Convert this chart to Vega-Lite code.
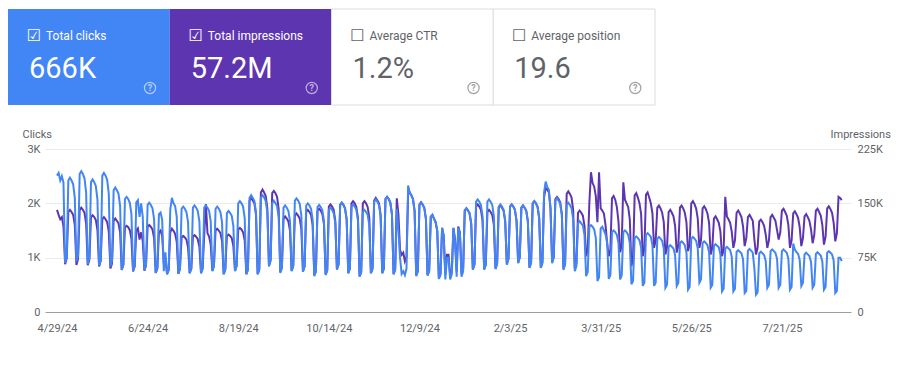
{
  "$schema": "https://vega.github.io/schema/vega-lite/v6.json",
  "background": "#ffffff",
  "padding": {"left": 8, "top": 8, "right": 0, "bottom": 0},
  "config": {"view": {"stroke": null}, "font": "Roboto"},
  "spacing": 22,
  "vconcat": [
    {
      "width": 610,
      "height": 96,
      "data": {"values": [
        {"m": "Total clicks", "v": "666K", "on": true},
        {"m": "Total impressions", "v": "57.2M", "on": true},
        {"m": "Average CTR", "v": "1.2%", "on": false},
        {"m": "Average position", "v": "19.6", "on": false}
      ]},
      "encoding": {
        "x": {"field": "m", "type": "nominal", "scale": {"domain": ["Total clicks", "Total impressions", "Average CTR", "Average position"], "range": [-37, 610], "paddingInner": 0, "paddingOuter": 0}, "axis": null}
      },
      "layer": [
        {
          "mark": {"type": "rect", "stroke": "#dadce0", "strokeWidth": 1},
          "encoding": {
            "fill": {"field": "m", "type": "nominal", "scale": {"domain": ["Total clicks", "Total impressions", "Average CTR", "Average position"], "range": ["#4285f4", "#5e35b1", "#ffffff", "#ffffff"]}, "legend": null},
            "strokeOpacity": {"condition": {"test": "datum.on", "value": 0}, "value": 1}
          }
        },
        {
          "mark": {"type": "text", "align": "center", "baseline": "middle", "font": "DejaVu Sans", "fontSize": 16, "dx": 26, "dy": -21},
          "encoding": {
            "x": {"field": "m", "type": "nominal", "bandPosition": 0},
            "text": {"condition": {"test": "datum.on", "value": "☑"}, "value": "☐"},
            "color": {"condition": {"test": "datum.on", "value": "#ffffff"}, "value": "#5f6368"}
          }
        },
        {
          "mark": {"type": "text", "align": "left", "baseline": "middle", "fontSize": 12, "dx": 38, "dy": -21},
          "encoding": {
            "x": {"field": "m", "type": "nominal", "bandPosition": 0},
            "text": {"field": "m"},
            "color": {"condition": {"test": "datum.on", "value": "#ffffff"}, "value": "#5f6368"}
          }
        },
        {
          "mark": {"type": "text", "align": "left", "baseline": "alphabetic", "fontSize": 29, "dx": 21, "dy": 21},
          "encoding": {
            "x": {"field": "m", "type": "nominal", "bandPosition": 0},
            "text": {"field": "v"},
            "color": {"condition": {"test": "datum.on", "value": "#ffffff"}, "value": "#5f6368"}
          }
        },
        {
          "mark": {"type": "point", "shape": "circle", "filled": false, "size": 125, "strokeWidth": 1.2},
          "encoding": {
            "x": {"field": "m", "type": "nominal", "bandPosition": 0.878},
            "yOffset": {"value": 31},
            "color": {"condition": {"test": "datum.on", "value": "#ffffff"}, "value": "#5f6368"},
            "opacity": {"value": 0.6}
          }
        },
        {
          "mark": {"type": "text", "align": "center", "baseline": "middle", "fontSize": 9, "fontWeight": "bold", "dx": 142, "dy": 31},
          "encoding": {
            "x": {"field": "m", "type": "nominal", "bandPosition": 0},
            "text": {"value": "?"},
            "color": {"condition": {"test": "datum.on", "value": "#ffffff"}, "value": "#5f6368"},
            "opacity": {"value": 0.6}
          }
        }
      ]
    },
    {
      "width": 806,
      "height": 163,
      "data": {"values": [
{"d":"2024-04-29","c":2510,"i":141000},{"d":"2024-04-30","c":2560,"i":134000},{"d":"2024-05-01","c":2420,"i":128000},{"d":"2024-05-02","c":2500,"i":131000},{"d":"2024-05-03","c":2380,"i":118000},{"d":"2024-05-04","c":900,"i":66000},{"d":"2024-05-05","c":1010,"i":74000},
{"d":"2024-05-06","c":2420,"i":138000},{"d":"2024-05-07","c":2470,"i":141000},{"d":"2024-05-08","c":2420,"i":138000},{"d":"2024-05-09","c":2350,"i":134000},{"d":"2024-05-10","c":2100,"i":120000},{"d":"2024-05-11","c":930,"i":65000},{"d":"2024-05-12","c":1040,"i":73000},
{"d":"2024-05-13","c":2540,"i":141000},{"d":"2024-05-14","c":2590,"i":144000},{"d":"2024-05-15","c":2540,"i":141000},{"d":"2024-05-16","c":2460,"i":137000},{"d":"2024-05-17","c":2200,"i":122000},{"d":"2024-05-18","c":880,"i":64500},{"d":"2024-05-19","c":990,"i":72000},
{"d":"2024-05-20","c":2390,"i":131000},{"d":"2024-05-21","c":2440,"i":133500},{"d":"2024-05-22","c":2390,"i":131000},{"d":"2024-05-23","c":2320,"i":127000},{"d":"2024-05-24","c":2070,"i":113000},{"d":"2024-05-25","c":850,"i":63000},{"d":"2024-05-26","c":950,"i":70500},
{"d":"2024-05-27","c":2510,"i":128000},{"d":"2024-05-28","c":2560,"i":131000},{"d":"2024-05-29","c":2510,"i":128000},{"d":"2024-05-30","c":2430,"i":124000},{"d":"2024-05-31","c":2180,"i":111000},{"d":"2024-06-01","c":840,"i":60000},{"d":"2024-06-02","c":940,"i":67000},
{"d":"2024-06-03","c":2240,"i":126000},{"d":"2024-06-04","c":2290,"i":129000},{"d":"2024-06-05","c":2240,"i":126000},{"d":"2024-06-06","c":2180,"i":122500},{"d":"2024-06-07","c":1950,"i":110000},{"d":"2024-06-08","c":780,"i":58000},{"d":"2024-06-09","c":870,"i":65000},
{"d":"2024-06-10","c":2080,"i":117000},{"d":"2024-06-11","c":2120,"i":119000},{"d":"2024-06-12","c":2080,"i":117000},{"d":"2024-06-13","c":2010,"i":113000},{"d":"2024-06-14","c":1800,"i":101000},{"d":"2024-06-15","c":750,"i":56000},{"d":"2024-06-16","c":840,"i":63000},
{"d":"2024-06-17","c":2020,"i":113000},{"d":"2024-06-18","c":2060,"i":115500},{"d":"2024-06-19","c":1750,"i":100000},{"d":"2024-06-20","c":2000,"i":110000},{"d":"2024-06-21","c":1750,"i":98000},{"d":"2024-06-22","c":770,"i":57000},{"d":"2024-06-23","c":860,"i":64000},
{"d":"2024-06-24","c":1970,"i":117500},{"d":"2024-06-25","c":2010,"i":120000},{"d":"2024-06-26","c":1970,"i":117500},{"d":"2024-06-27","c":1910,"i":114000},{"d":"2024-06-28","c":1710,"i":102000},{"d":"2024-06-29","c":720,"i":54000},{"d":"2024-06-30","c":810,"i":60000},
{"d":"2024-07-01","c":1800,"i":110000},{"d":"2024-07-02","c":1830,"i":112500},{"d":"2024-07-03","c":1700,"i":105000},{"d":"2024-07-04","c":750,"i":67000},{"d":"2024-07-05","c":1100,"i":75000},{"d":"2024-07-06","c":690,"i":52500},{"d":"2024-07-07","c":770,"i":58000},
{"d":"2024-07-08","c":1880,"i":110000},{"d":"2024-07-09","c":2100,"i":115000},{"d":"2024-07-10","c":2000,"i":112000},{"d":"2024-07-11","c":1950,"i":108000},{"d":"2024-07-12","c":1750,"i":97000},{"d":"2024-07-13","c":700,"i":53000},{"d":"2024-07-14","c":790,"i":60000},
{"d":"2024-07-15","c":1900,"i":103000},{"d":"2024-07-16","c":1940,"i":105000},{"d":"2024-07-17","c":1900,"i":103000},{"d":"2024-07-18","c":1840,"i":100000},{"d":"2024-07-19","c":1650,"i":89000},{"d":"2024-07-20","c":710,"i":54000},{"d":"2024-07-21","c":800,"i":60000},
{"d":"2024-07-22","c":1920,"i":104000},{"d":"2024-07-23","c":1960,"i":106000},{"d":"2024-07-24","c":1920,"i":104000},{"d":"2024-07-25","c":1860,"i":100500},{"d":"2024-07-26","c":1670,"i":90000},{"d":"2024-07-27","c":710,"i":54000},{"d":"2024-07-28","c":800,"i":60000},
{"d":"2024-07-29","c":1920,"i":107000},{"d":"2024-07-30","c":1960,"i":149000},{"d":"2024-07-31","c":1920,"i":109000},{"d":"2024-08-01","c":1860,"i":104000},{"d":"2024-08-02","c":1670,"i":93000},{"d":"2024-08-03","c":750,"i":57000},{"d":"2024-08-04","c":840,"i":64000},
{"d":"2024-08-05","c":1900,"i":112500},{"d":"2024-08-06","c":1940,"i":115000},{"d":"2024-08-07","c":1900,"i":112500},{"d":"2024-08-08","c":1840,"i":109000},{"d":"2024-08-09","c":1650,"i":98000},{"d":"2024-08-10","c":690,"i":52500},{"d":"2024-08-11","c":770,"i":59000},
{"d":"2024-08-12","c":1820,"i":105000},{"d":"2024-08-13","c":1860,"i":107000},{"d":"2024-08-14","c":1820,"i":105000},{"d":"2024-08-15","c":1770,"i":102000},{"d":"2024-08-16","c":1580,"i":91000},{"d":"2024-08-17","c":750,"i":57000},{"d":"2024-08-18","c":840,"i":64000},
{"d":"2024-08-19","c":2000,"i":114000},{"d":"2024-08-20","c":2040,"i":116000},{"d":"2024-08-21","c":2000,"i":114000},{"d":"2024-08-22","c":1940,"i":110000},{"d":"2024-08-23","c":1730,"i":99000},{"d":"2024-08-24","c":690,"i":52500},{"d":"2024-08-25","c":770,"i":59000},
{"d":"2024-08-26","c":2100,"i":154000},{"d":"2024-08-27","c":2150,"i":157500},{"d":"2024-08-28","c":2100,"i":154000},{"d":"2024-08-29","c":2040,"i":150000},{"d":"2024-08-30","c":1830,"i":134000},{"d":"2024-08-31","c":690,"i":52500},{"d":"2024-09-01","c":770,"i":59000},
{"d":"2024-09-02","c":2100,"i":165000},{"d":"2024-09-03","c":2150,"i":169000},{"d":"2024-09-04","c":2110,"i":165000},{"d":"2024-09-05","c":2040,"i":160000},{"d":"2024-09-06","c":1830,"i":143000},{"d":"2024-09-07","c":840,"i":64500},{"d":"2024-09-08","c":940,"i":72000},
{"d":"2024-09-09","c":2000,"i":164000},{"d":"2024-09-10","c":2050,"i":167000},{"d":"2024-09-11","c":2000,"i":164000},{"d":"2024-09-12","c":1950,"i":159000},{"d":"2024-09-13","c":1740,"i":142000},{"d":"2024-09-14","c":720,"i":55500},{"d":"2024-09-15","c":810,"i":62000},
{"d":"2024-09-16","c":1920,"i":129000},{"d":"2024-09-17","c":1960,"i":132000},{"d":"2024-09-18","c":1920,"i":129000},{"d":"2024-09-19","c":1860,"i":125000},{"d":"2024-09-20","c":1670,"i":112000},{"d":"2024-09-21","c":750,"i":57000},{"d":"2024-09-22","c":840,"i":64000},
{"d":"2024-09-23","c":2050,"i":133000},{"d":"2024-09-24","c":2090,"i":136000},{"d":"2024-09-25","c":2050,"i":133000},{"d":"2024-09-26","c":1990,"i":129000},{"d":"2024-09-27","c":1780,"i":115000},{"d":"2024-09-28","c":740,"i":56000},{"d":"2024-09-29","c":830,"i":63000},
{"d":"2024-09-30","c":1960,"i":138000},{"d":"2024-10-01","c":2000,"i":141000},{"d":"2024-10-02","c":1960,"i":138000},{"d":"2024-10-03","c":1900,"i":134000},{"d":"2024-10-04","c":1700,"i":120000},{"d":"2024-10-05","c":660,"i":51000},{"d":"2024-10-06","c":740,"i":57000},
{"d":"2024-10-07","c":1930,"i":140000},{"d":"2024-10-08","c":1970,"i":142500},{"d":"2024-10-09","c":1930,"i":140000},{"d":"2024-10-10","c":1870,"i":135000},{"d":"2024-10-11","c":1670,"i":121000},{"d":"2024-10-12","c":680,"i":52000},{"d":"2024-10-13","c":760,"i":58000},
{"d":"2024-10-14","c":1880,"i":145500},{"d":"2024-10-15","c":1920,"i":148500},{"d":"2024-10-16","c":1880,"i":145500},{"d":"2024-10-17","c":1820,"i":141000},{"d":"2024-10-18","c":1630,"i":126000},{"d":"2024-10-19","c":780,"i":59000},{"d":"2024-10-20","c":870,"i":66000},
{"d":"2024-10-21","c":1970,"i":148000},{"d":"2024-10-22","c":2010,"i":151000},{"d":"2024-10-23","c":1970,"i":148000},{"d":"2024-10-24","c":1910,"i":143000},{"d":"2024-10-25","c":1710,"i":128000},{"d":"2024-10-26","c":710,"i":54000},{"d":"2024-10-27","c":800,"i":60000},
{"d":"2024-10-28","c":1940,"i":150000},{"d":"2024-10-29","c":1980,"i":153000},{"d":"2024-10-30","c":1940,"i":150000},{"d":"2024-10-31","c":1880,"i":145000},{"d":"2024-11-01","c":1680,"i":130000},{"d":"2024-11-02","c":650,"i":49500},{"d":"2024-11-03","c":730,"i":55000},
{"d":"2024-11-04","c":1840,"i":150000},{"d":"2024-11-05","c":1880,"i":153000},{"d":"2024-11-06","c":1840,"i":150000},{"d":"2024-11-07","c":1790,"i":145000},{"d":"2024-11-08","c":1600,"i":130000},{"d":"2024-11-09","c":710,"i":54000},{"d":"2024-11-10","c":800,"i":60000},
{"d":"2024-11-11","c":2030,"i":154000},{"d":"2024-11-12","c":2070,"i":157500},{"d":"2024-11-13","c":2030,"i":154000},{"d":"2024-11-14","c":1970,"i":150000},{"d":"2024-11-15","c":1760,"i":134000},{"d":"2024-11-16","c":710,"i":54000},{"d":"2024-11-17","c":800,"i":60000},
{"d":"2024-11-18","c":2080,"i":156000},{"d":"2024-11-19","c":2120,"i":159000},{"d":"2024-11-20","c":2080,"i":156000},{"d":"2024-11-21","c":2010,"i":151000},{"d":"2024-11-22","c":1800,"i":135000},{"d":"2024-11-23","c":690,"i":52500},{"d":"2024-11-24","c":770,"i":59000},
{"d":"2024-11-25","c":1900,"i":157000},{"d":"2024-11-26","c":1500,"i":135000},{"d":"2024-11-27","c":1000,"i":86000},{"d":"2024-11-28","c":700,"i":79000},{"d":"2024-11-29","c":750,"i":82000},{"d":"2024-11-30","c":680,"i":70000},{"d":"2024-12-01","c":800,"i":76000},
{"d":"2024-12-02","c":2330,"i":163000},{"d":"2024-12-03","c":2200,"i":165000},{"d":"2024-12-04","c":2150,"i":161000},{"d":"2024-12-05","c":2080,"i":156000},{"d":"2024-12-06","c":1850,"i":140000},{"d":"2024-12-07","c":660,"i":51000},{"d":"2024-12-08","c":740,"i":57000},
{"d":"2024-12-09","c":1970,"i":148500},{"d":"2024-12-10","c":2010,"i":151500},{"d":"2024-12-11","c":1970,"i":148500},{"d":"2024-12-12","c":1910,"i":144000},{"d":"2024-12-13","c":1710,"i":129000},{"d":"2024-12-14","c":670,"i":51000},{"d":"2024-12-15","c":750,"i":57000},
{"d":"2024-12-16","c":1760,"i":131000},{"d":"2024-12-17","c":1790,"i":134000},{"d":"2024-12-18","c":1720,"i":129000},{"d":"2024-12-19","c":1650,"i":124000},{"d":"2024-12-20","c":1500,"i":112000},{"d":"2024-12-21","c":610,"i":47000},{"d":"2024-12-22","c":680,"i":53000},
{"d":"2024-12-23","c":1550,"i":116000},{"d":"2024-12-24","c":1400,"i":105000},{"d":"2024-12-25","c":600,"i":52000},{"d":"2024-12-26","c":1000,"i":79000},{"d":"2024-12-27","c":1000,"i":79000},{"d":"2024-12-28","c":600,"i":49000},{"d":"2024-12-29","c":700,"i":56000},
{"d":"2024-12-30","c":1550,"i":116000},{"d":"2024-12-31","c":1300,"i":100000},{"d":"2025-01-01","c":650,"i":56000},{"d":"2025-01-02","c":1550,"i":118000},{"d":"2025-01-03","c":1450,"i":110000},{"d":"2025-01-04","c":650,"i":52000},{"d":"2025-01-05","c":750,"i":60000},
{"d":"2025-01-06","c":1870,"i":140000},{"d":"2025-01-07","c":1910,"i":143000},{"d":"2025-01-08","c":1870,"i":140000},{"d":"2025-01-09","c":1820,"i":136000},{"d":"2025-01-10","c":1620,"i":122000},{"d":"2025-01-11","c":780,"i":59000},{"d":"2025-01-12","c":870,"i":66000},
{"d":"2025-01-13","c":2030,"i":145500},{"d":"2025-01-14","c":2070,"i":148500},{"d":"2025-01-15","c":2030,"i":145500},{"d":"2025-01-16","c":1970,"i":141000},{"d":"2025-01-17","c":1760,"i":126000},{"d":"2025-01-18","c":780,"i":59000},{"d":"2025-01-19","c":870,"i":66000},
{"d":"2025-01-20","c":2030,"i":138000},{"d":"2025-01-21","c":2070,"i":141000},{"d":"2025-01-22","c":2030,"i":138000},{"d":"2025-01-23","c":1970,"i":134000},{"d":"2025-01-24","c":1760,"i":120000},{"d":"2025-01-25","c":790,"i":60000},{"d":"2025-01-26","c":880,"i":67000},
{"d":"2025-01-27","c":1940,"i":144000},{"d":"2025-01-28","c":1980,"i":147000},{"d":"2025-01-29","c":1940,"i":144000},{"d":"2025-01-30","c":1880,"i":140000},{"d":"2025-01-31","c":1680,"i":125000},{"d":"2025-02-01","c":870,"i":66000},{"d":"2025-02-02","c":970,"i":74000},
{"d":"2025-02-03","c":1940,"i":145500},{"d":"2025-02-04","c":1980,"i":148500},{"d":"2025-02-05","c":1940,"i":145500},{"d":"2025-02-06","c":1880,"i":141000},{"d":"2025-02-07","c":1680,"i":126000},{"d":"2025-02-08","c":900,"i":68000},{"d":"2025-02-09","c":1000,"i":76000},
{"d":"2025-02-10","c":1920,"i":144000},{"d":"2025-02-11","c":1960,"i":147000},{"d":"2025-02-12","c":1920,"i":144000},{"d":"2025-02-13","c":1860,"i":140000},{"d":"2025-02-14","c":1670,"i":125000},{"d":"2025-02-15","c":810,"i":61500},{"d":"2025-02-16","c":900,"i":69000},
{"d":"2025-02-17","c":2000,"i":150000},{"d":"2025-02-18","c":2040,"i":153000},{"d":"2025-02-19","c":2000,"i":150000},{"d":"2025-02-20","c":1940,"i":145000},{"d":"2025-02-21","c":1730,"i":130000},{"d":"2025-02-22","c":810,"i":61500},{"d":"2025-02-23","c":900,"i":69000},
{"d":"2025-02-24","c":2200,"i":158000},{"d":"2025-02-25","c":2400,"i":171000},{"d":"2025-02-26","c":2300,"i":169000},{"d":"2025-02-27","c":2250,"i":165000},{"d":"2025-02-28","c":1900,"i":143000},{"d":"2025-03-01","c":900,"i":69000},{"d":"2025-03-02","c":1000,"i":76000},
{"d":"2025-03-03","c":2050,"i":156000},{"d":"2025-03-04","c":2100,"i":159000},{"d":"2025-03-05","c":2050,"i":156000},{"d":"2025-03-06","c":1990,"i":151000},{"d":"2025-03-07","c":1790,"i":135000},{"d":"2025-03-08","c":775,"i":60000},{"d":"2025-03-09","c":870,"i":67000},
{"d":"2025-03-10","c":1970,"i":163000},{"d":"2025-03-11","c":2010,"i":166500},{"d":"2025-03-12","c":1970,"i":163000},{"d":"2025-03-13","c":1910,"i":158000},{"d":"2025-03-14","c":1710,"i":141000},{"d":"2025-03-15","c":750,"i":60000},{"d":"2025-03-16","c":840,"i":67000},
{"d":"2025-03-17","c":1630,"i":137000},{"d":"2025-03-18","c":1670,"i":140000},{"d":"2025-03-19","c":1630,"i":137000},{"d":"2025-03-20","c":1590,"i":133000},{"d":"2025-03-21","c":1420,"i":119000},{"d":"2025-03-22","c":660,"i":77000},{"d":"2025-03-23","c":740,"i":86000},
{"d":"2025-03-24","c":1570,"i":150000},{"d":"2025-03-25","c":1600,"i":193000},{"d":"2025-03-26","c":1570,"i":178000},{"d":"2025-03-27","c":1520,"i":173000},{"d":"2025-03-28","c":1360,"i":160000},{"d":"2025-03-29","c":570,"i":124000},{"d":"2025-03-30","c":640,"i":193000},
{"d":"2025-03-31","c":1540,"i":143000},{"d":"2025-04-01","c":1570,"i":140000},{"d":"2025-04-02","c":1500,"i":136000},{"d":"2025-04-03","c":1430,"i":120000},{"d":"2025-04-04","c":1280,"i":95000},{"d":"2025-04-05","c":610,"i":77000},{"d":"2025-04-06","c":680,"i":86000},
{"d":"2025-04-07","c":1470,"i":157000},{"d":"2025-04-08","c":1500,"i":160000},{"d":"2025-04-09","c":1470,"i":155000},{"d":"2025-04-10","c":1420,"i":145000},{"d":"2025-04-11","c":1270,"i":125000},{"d":"2025-04-12","c":600,"i":82500},{"d":"2025-04-13","c":670,"i":92000},
{"d":"2025-04-14","c":1470,"i":179000},{"d":"2025-04-15","c":1500,"i":155000},{"d":"2025-04-16","c":1470,"i":150000},{"d":"2025-04-17","c":1420,"i":145000},{"d":"2025-04-18","c":1270,"i":128000},{"d":"2025-04-19","c":510,"i":63000},{"d":"2025-04-20","c":570,"i":75000},
{"d":"2025-04-21","c":1360,"i":161000},{"d":"2025-04-22","c":1390,"i":164000},{"d":"2025-04-23","c":1360,"i":158000},{"d":"2025-04-24","c":1320,"i":150000},{"d":"2025-04-25","c":1180,"i":135000},{"d":"2025-04-26","c":480,"i":77000},{"d":"2025-04-27","c":540,"i":86000},
{"d":"2025-04-28","c":1420,"i":162000},{"d":"2025-04-29","c":1450,"i":165000},{"d":"2025-04-30","c":1420,"i":158000},{"d":"2025-05-01","c":1380,"i":150000},{"d":"2025-05-02","c":1230,"i":136000},{"d":"2025-05-03","c":480,"i":88500},{"d":"2025-05-04","c":540,"i":99000},
{"d":"2025-05-05","c":1350,"i":144000},{"d":"2025-05-06","c":1380,"i":147000},{"d":"2025-05-07","c":1350,"i":143000},{"d":"2025-05-08","c":1310,"i":137000},{"d":"2025-05-09","c":1170,"i":124000},{"d":"2025-05-10","c":445,"i":79500},{"d":"2025-05-11","c":500,"i":89000},
{"d":"2025-05-12","c":1200,"i":138000},{"d":"2025-05-13","c":1230,"i":141000},{"d":"2025-05-14","c":1200,"i":137000},{"d":"2025-05-15","c":1170,"i":132000},{"d":"2025-05-16","c":1050,"i":119000},{"d":"2025-05-17","c":480,"i":82000},{"d":"2025-05-18","c":540,"i":92000},
{"d":"2025-05-19","c":1270,"i":144000},{"d":"2025-05-20","c":1300,"i":147000},{"d":"2025-05-21","c":1270,"i":143000},{"d":"2025-05-22","c":1230,"i":137000},{"d":"2025-05-23","c":1100,"i":124000},{"d":"2025-05-24","c":410,"i":84000},{"d":"2025-05-25","c":460,"i":94000},
{"d":"2025-05-26","c":1350,"i":150000},{"d":"2025-05-27","c":1380,"i":153000},{"d":"2025-05-28","c":1350,"i":149000},{"d":"2025-05-29","c":1310,"i":143000},{"d":"2025-05-30","c":1170,"i":129000},{"d":"2025-05-31","c":540,"i":88500},{"d":"2025-06-01","c":600,"i":99000},
{"d":"2025-06-02","c":1270,"i":143000},{"d":"2025-06-03","c":1300,"i":146000},{"d":"2025-06-04","c":1270,"i":142000},{"d":"2025-06-05","c":1230,"i":136000},{"d":"2025-06-06","c":1100,"i":123000},{"d":"2025-06-07","c":450,"i":79500},{"d":"2025-06-08","c":500,"i":89000},
{"d":"2025-06-09","c":1220,"i":129000},{"d":"2025-06-10","c":1250,"i":132000},{"d":"2025-06-11","c":1220,"i":128000},{"d":"2025-06-12","c":1190,"i":123000},{"d":"2025-06-13","c":1060,"i":111000},{"d":"2025-06-14","c":380,"i":77000},{"d":"2025-06-15","c":430,"i":86000},
{"d":"2025-06-16","c":1170,"i":159000},{"d":"2025-06-17","c":1200,"i":132000},{"d":"2025-06-18","c":1170,"i":128000},{"d":"2025-06-19","c":1140,"i":123000},{"d":"2025-06-20","c":1020,"i":111000},{"d":"2025-06-21","c":380,"i":88500},{"d":"2025-06-22","c":430,"i":99000},
{"d":"2025-06-23","c":1110,"i":137000},{"d":"2025-06-24","c":1140,"i":140000},{"d":"2025-06-25","c":1110,"i":136000},{"d":"2025-06-26","c":1080,"i":131000},{"d":"2025-06-27","c":970,"i":118000},{"d":"2025-06-28","c":350,"i":91000},{"d":"2025-06-29","c":390,"i":102000},
{"d":"2025-06-30","c":1130,"i":131000},{"d":"2025-07-01","c":1160,"i":134000},{"d":"2025-07-02","c":1130,"i":130000},{"d":"2025-07-03","c":1090,"i":126000},{"d":"2025-07-04","c":800,"i":100000},{"d":"2025-07-05","c":320,"i":79500},{"d":"2025-07-06","c":360,"i":89000},
{"d":"2025-07-07","c":1080,"i":125000},{"d":"2025-07-08","c":1110,"i":127500},{"d":"2025-07-09","c":1080,"i":124000},{"d":"2025-07-10","c":1050,"i":119000},{"d":"2025-07-11","c":940,"i":107000},{"d":"2025-07-12","c":445,"i":88500},{"d":"2025-07-13","c":500,"i":99000},
{"d":"2025-07-14","c":1120,"i":131000},{"d":"2025-07-15","c":1150,"i":134000},{"d":"2025-07-16","c":1120,"i":130000},{"d":"2025-07-17","c":1090,"i":126000},{"d":"2025-07-18","c":980,"i":113000},{"d":"2025-07-19","c":445,"i":100000},{"d":"2025-07-20","c":500,"i":110000},
{"d":"2025-07-21","c":1120,"i":140000},{"d":"2025-07-22","c":1150,"i":142500},{"d":"2025-07-23","c":1120,"i":138000},{"d":"2025-07-24","c":1090,"i":133000},{"d":"2025-07-25","c":980,"i":120000},{"d":"2025-07-26","c":410,"i":88500},{"d":"2025-07-27","c":460,"i":99000},
{"d":"2025-07-28","c":1260,"i":136000},{"d":"2025-07-29","c":1150,"i":139000},{"d":"2025-07-30","c":1100,"i":135000},{"d":"2025-07-31","c":1070,"i":130000},{"d":"2025-08-01","c":960,"i":117000},{"d":"2025-08-02","c":480,"i":91000},{"d":"2025-08-03","c":540,"i":102000},
{"d":"2025-08-04","c":1060,"i":132000},{"d":"2025-08-05","c":1090,"i":135000},{"d":"2025-08-06","c":1060,"i":131000},{"d":"2025-08-07","c":1030,"i":126000},{"d":"2025-08-08","c":920,"i":114000},{"d":"2025-08-09","c":445,"i":95000},{"d":"2025-08-10","c":500,"i":106000},
{"d":"2025-08-11","c":1070,"i":140000},{"d":"2025-08-12","c":1100,"i":142500},{"d":"2025-08-13","c":1070,"i":138000},{"d":"2025-08-14","c":1040,"i":133000},{"d":"2025-08-15","c":930,"i":120000},{"d":"2025-08-16","c":410,"i":93000},{"d":"2025-08-17","c":460,"i":104000},
{"d":"2025-08-18","c":1090,"i":143000},{"d":"2025-08-19","c":1120,"i":146000},{"d":"2025-08-20","c":1090,"i":142000},{"d":"2025-08-21","c":1060,"i":137000},{"d":"2025-08-22","c":950,"i":123000},{"d":"2025-08-23","c":350,"i":97500},{"d":"2025-08-24","c":390,"i":109000},
{"d":"2025-08-25","c":1000,"i":159000},{"d":"2025-08-26","c":1000,"i":157500},{"d":"2025-08-27","c":935,"i":154500}
      ]},
      "encoding": {
        "x": {
          "field": "d", "type": "temporal",
          "scale": {"type": "utc", "domain": [{"year": 2024, "month": 4, "date": 21, "hours": 14, "utc": true}, {"year": 2025, "month": 9, "date": 1, "hours": 17, "utc": true}]},
          "axis": {
            "title": null,
            "values": [
              {"year": 2024, "month": 4, "date": 29, "utc": true},
              {"year": 2024, "month": 6, "date": 24, "utc": true},
              {"year": 2024, "month": 8, "date": 19, "utc": true},
              {"year": 2024, "month": 10, "date": 14, "utc": true},
              {"year": 2024, "month": 12, "date": 9, "utc": true},
              {"year": 2025, "month": 2, "date": 3, "utc": true},
              {"year": 2025, "month": 3, "date": 31, "utc": true},
              {"year": 2025, "month": 5, "date": 26, "utc": true},
              {"year": 2025, "month": 7, "date": 21, "utc": true}
            ],
            "format": "%-m/%-d/%y",
            "labelFlush": false,
            "labelOverlap": false,
            "ticks": false,
            "grid": false,
            "domainColor": "#9aa0a6",
            "labelColor": "#5f6368",
            "labelFontSize": 11,
            "labelPadding": 10
          }
        }
      },
      "layer": [
        {
          "mark": {"type": "line", "color": "#5e35b1", "strokeWidth": 2},
          "encoding": {
            "y": {
              "field": "i", "type": "quantitative",
              "scale": {"domain": [0, 225000]},
              "axis": {
                "orient": "right",
                "values": [0, 75000, 150000, 225000],
                "labelExpr": "datum.value == 0 ? '0' : (datum.value / 1000) + 'K'",
                "grid": false, "domain": false, "ticks": false,
                "labelPadding": 6, "labelColor": "#5f6368", "labelFontSize": 11,
                "title": "Impressions", "titleAngle": 0, "titleAlign": "left", "titleBaseline": "middle",
                "titleX": -21, "titleY": -15, "titleFontWeight": "normal", "titleFontSize": 11, "titleColor": "#5f6368"
              }
            }
          }
        },
        {
          "mark": {"type": "line", "color": "#4285f4", "strokeWidth": 2},
          "encoding": {
            "y": {
              "field": "c", "type": "quantitative",
              "scale": {"domain": [0, 3000]},
              "axis": {
                "orient": "left",
                "values": [0, 1000, 2000, 3000],
                "labelExpr": "datum.value == 0 ? '0' : (datum.value / 1000) + 'K'",
                "grid": true, "gridColor": "#e8eaed", "domain": false, "ticks": false,
                "labelPadding": 5, "labelColor": "#5f6368", "labelFontSize": 11, "minExtent": 37,
                "title": "Clicks", "titleAngle": 0, "titleAlign": "left", "titleBaseline": "middle",
                "titleX": -23, "titleY": -15, "titleFontWeight": "normal", "titleFontSize": 11, "titleColor": "#5f6368"
              }
            }
          }
        }
      ],
      "resolve": {"scale": {"y": "independent"}}
    }
  ]
}
